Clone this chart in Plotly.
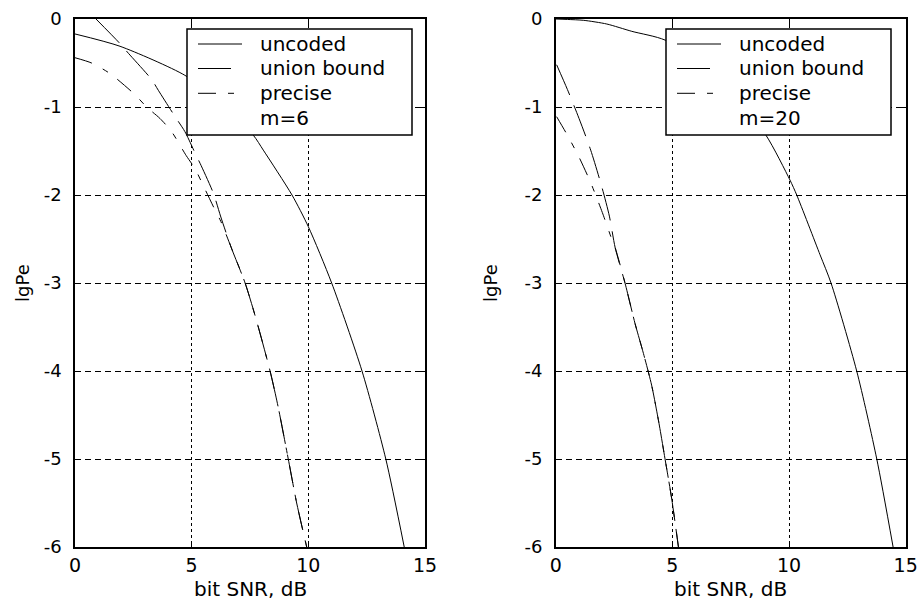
import plotly.graph_objects as go

# ---------------- data ----------------
# left panel, m=6
L_unc_x = [0.0, 1.93, 4.71, 6.2, 7.64, 8.07, 9.3, 10.0, 11.0, 12.3, 13.32, 14.11]
L_unc_y = [-0.17, -0.31, -0.64, -0.94, -1.32, -1.49, -2.0, -2.36, -3.0, -4.0, -5.0, -6.0]

L_ub_x = [0.9, 1.93, 2.29, 3.29, 3.57, 4.29, 4.71, 5.21, 5.36, 5.93, 6.25, 6.7, 7.29, 7.75, 8.36, 8.7, 9.14, 9.5, 9.93]
L_ub_y = [0.0, -0.28, -0.39, -0.69, -0.81, -1.11, -1.28, -1.56, -1.64, -1.98, -2.25, -2.6, -3.0, -3.4, -4.0, -4.4, -5.0, -5.5, -6.0]

L_pr_x = [0.0, 0.71, 1.5, 2.57, 3.07, 3.64, 4.14, 4.76, 5.14, 5.6, 6.0, 6.25, 6.7, 7.29, 7.75, 8.36, 8.7, 9.14, 9.5, 9.93]
L_pr_y = [-0.44, -0.5, -0.62, -0.86, -1.0, -1.13, -1.28, -1.55, -1.7, -1.95, -2.17, -2.3, -2.6, -3.0, -3.4, -4.0, -4.4, -5.0, -5.5, -6.0]

# right panel, m=20
R_unc_x = [0.0, 0.5, 1.2, 2.19, 3.26, 4.69, 7.0, 9.01, 10.04, 10.33, 11.33, 11.8, 12.9, 13.76, 14.46]
R_unc_y = [0.0, -0.005, -0.015, -0.057, -0.14, -0.24, -0.65, -1.32, -1.83, -2.0, -2.68, -3.0, -4.0, -5.0, -6.0]

R_ub_x = [0.04, 0.5, 1.0, 1.5, 2.0, 2.3, 2.55, 2.97, 3.4, 3.76, 4.11, 4.43, 4.68, 4.97, 5.26]
R_ub_y = [-0.52, -0.8, -1.13, -1.49, -1.93, -2.24, -2.6, -3.0, -3.46, -3.8, -4.16, -4.6, -4.99, -5.45, -6.0]

R_pr_x = [0.04, 0.5, 1.0, 1.5, 2.0, 2.4, 2.55, 2.97, 3.4, 3.76, 4.11, 4.43, 4.68, 4.97, 5.26]
R_pr_y = [-1.11, -1.32, -1.57, -1.86, -2.2, -2.5, -2.6, -3.0, -3.46, -3.8, -4.16, -4.6, -4.99, -5.45, -6.0]

x_ticks = [0, 5, 10, 15]
x_ticktext = ["0", "5", "10", "15"]
y_ticks = [0, -1, -2, -3, -4, -5, -6]
y_ticktext = ["0", "-1", "-2", "-3", "-4", "-5", "-6"]
names = ["uncoded", "union bound", "precise"]
panel_labels = ["m=6", "m=20"]
x_title = "bit SNR, dB"
y_title = "lgPe"

# ---------------- figure ----------------
W, H = 918, 603
FONT = "DejaVu Sans"
fig = go.Figure()

styles = [dict(color="black", width=1),
          dict(color="black", width=1, dash="33px,11px"),
          dict(color="black", width=1, dash="18px,12px,6px,12px")]

panels = [
    ((L_unc_x, L_unc_y), (L_ub_x, L_ub_y), (L_pr_x, L_pr_y)),
    ((R_unc_x, R_unc_y), (R_ub_x, R_ub_y), (R_pr_x, R_pr_y)),
]
for i, series in enumerate(panels):
    xa = "x" if i == 0 else "x2"
    ya = "y" if i == 0 else "y2"
    for (sx, sy), nm, st in zip(series, names, styles):
        fig.add_trace(go.Scatter(x=sx, y=sy, mode="lines", name=nm,
                                 line=dict(shape="spline", smoothing=0.7, **st),
                                 xaxis=xa, yaxis=ya, showlegend=False))

ydom = [1 - 547 / H, 1 - 19 / H]
common_x = dict(range=[0, 15], tickvals=x_ticks, ticktext=x_ticktext, showgrid=True,
                gridcolor="black", gridwidth=1, griddash="3px,3px", showline=True,
                linecolor="black", linewidth=1.5, mirror="ticks", ticks="inside",
                ticklen=6, tickcolor="black", zeroline=False, ticklabelstandoff=0,
                automargin=False,
                tickfont=dict(family=FONT, size=19, color="black"))
common_y = dict(range=[-6, 0], tickvals=y_ticks, ticktext=y_ticktext, showgrid=True,
                gridcolor="black", gridwidth=1, griddash="6px,4px", showline=True,
                linecolor="black", linewidth=1.5, mirror="ticks", ticks="inside",
                ticklen=6, tickcolor="black", zeroline=False, ticklabelstandoff=8,
                automargin=False,
                tickfont=dict(family=FONT, size=18, color="black"), domain=ydom)

# ---- legend boxes drawn in paper pixels ----
def px(x):
    return x / W

def py(y):
    return 1 - y / H

shapes = []
annotations = []
legend_lefts = [187, 666]
legend_w, legend_top, legend_bot = 225, 29, 135
row_centers = [44, 68.5, 93.3, 118.3]
for i, lx in enumerate(legend_lefts):
    shapes.append(dict(type="rect", xref="paper", yref="paper",
                       x0=px(lx), x1=px(lx + legend_w), y0=py(legend_bot), y1=py(legend_top),
                       line=dict(color="black", width=1.5), fillcolor="white", layer="above"))
    labels = names + [panel_labels[i]]
    for r, lab in enumerate(labels):
        yc = row_centers[r]
        if r < len(styles):
            st = styles[r]
            shapes.append(dict(type="line", xref="paper", yref="paper",
                               x0=px(lx + 11), x1=px(lx + 55), y0=py(yc), y1=py(yc),
                               line=dict(color="black", width=1, dash=st.get("dash", "solid")),
                               layer="above"))
        annotations.append(dict(text=lab, x=px(lx + 71), y=py(yc), xref="paper", yref="paper",
                                xanchor="left", yanchor="middle", showarrow=False,
                                font=dict(family=FONT, size=20, color="black")))

for cx in [250, 730.7]:
    annotations.append(dict(text=x_title, x=px(cx), y=py(589), xref="paper", yref="paper",
                            xanchor="center", yanchor="middle", showarrow=False,
                            font=dict(family=FONT, size=20, color="black")))
for cx in [22, 490]:
    annotations.append(dict(text=y_title, x=px(cx), y=py(283), xref="paper", yref="paper",
                            xanchor="center", yanchor="middle", showarrow=False, textangle=-90,
                            font=dict(family=FONT, size=18, color="black")))

fig.update_layout(
    width=W, height=H, margin=dict(l=0, r=0, t=0, b=0, autoexpand=False),
    paper_bgcolor="white", plot_bgcolor="white", showlegend=False,
    xaxis=dict(domain=[75 / W, 425 / W], anchor="y", **common_x),
    yaxis=dict(anchor="x", **common_y),
    xaxis2=dict(domain=[555.7 / W, 905.7 / W], anchor="y2", **common_x),
    yaxis2=dict(anchor="x2", **common_y),
    shapes=shapes,
    annotations=annotations,
)

fig.write_html("out.html")
